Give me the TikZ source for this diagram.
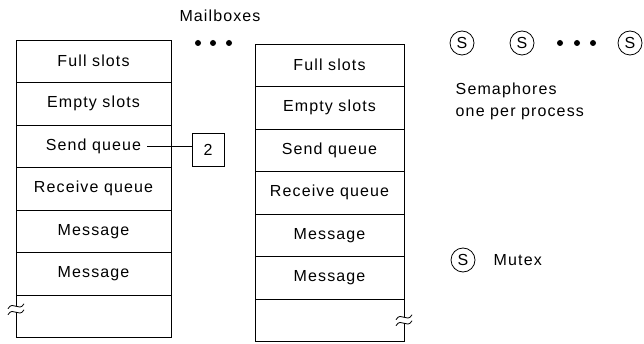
\documentclass[tikz,border=0pt]{standalone}
\usepackage{fontspec}
\setmainfont[LetterSpace=7]{Liberation Sans}
\usetikzlibrary{positioning}

\tikzset{
    slot/.style={draw, rectangle, minimum height=42.5pt, outer sep=0pt, inner sep=0pt},
    sema/.style={draw, circle, minimum size=24pt, inner sep=0pt},
    bigdot/.style={fill, circle, minimum size=6pt, inner sep=0pt},
}

% torn edge: two waves round a point
\newcommand{\tearmark}[1]{%
    \draw ([shift={(-8pt,0.5pt)}]#1) .. controls ([shift={(-3pt,9.5pt)}]#1) and ([shift={(3pt,-3.5pt)}]#1) .. ([shift={(8pt,5.5pt)}]#1);
    \draw ([shift={(-8pt,-5.5pt)}]#1) .. controls ([shift={(-3pt,3.5pt)}]#1) and ([shift={(3pt,-9.5pt)}]#1) .. ([shift={(8pt,-0.5pt)}]#1);
}

\begin{document}
\begin{tikzpicture}[x=1pt, y=-1pt, line width=0.8pt, font=\fontsize{16}{22}\selectfont]
    \useasboundingbox (0,0) rectangle (644,344);

    \node (mbox) at (220,16) {Mailboxes};

    % first mailbox
    \begin{scope}[every node/.style={slot, minimum width=155pt}]
        \node[anchor=north west] (fs1) at (16,40) {Full slots};
        \node[below=0pt of fs1] (es1) {Empty slots};
        \node[below=0pt of es1] (sq1) {Send queue};
        \node[below=0pt of sq1] (rq1) {Receive queue};
        \node[below=0pt of rq1] (ma1) {Message};
        \node[below=0pt of ma1] (mb1) {Message};
        \node[below=0pt of mb1, draw=none] (e1) {};
    \end{scope}
    \coordinate (tear1) at ([yshift=7pt]e1.west);
    \draw (e1.north west) -- ([yshift=3pt]tear1);
    \draw ([yshift=-3pt]tear1) -- (e1.south west) -- (e1.south east) -- (e1.north east);
    \tearmark{tear1}

    % send queue length
    \node[draw, minimum width=32pt, minimum height=33pt, inner sep=0pt] (len) at (208,150) {2};
    \coordinate (qend) at ([xshift=-24pt]sq1.east);
    \draw (qend) -- (qend -| len.west);

    % more mailboxes
    \node[bigdot] (md1) at (198,43) {};
    \node[bigdot] (md2) at (213,43) {};
    \node[bigdot] (md3) at (229,43) {};

    % last mailbox
    \begin{scope}[every node/.style={slot, minimum width=149pt}]
        \node[anchor=north west] (fs2) at (255,44) {Full slots};
        \node[below=0pt of fs2] (es2) {Empty slots};
        \node[below=0pt of es2] (sq2) {Send queue};
        \node[below=0pt of sq2] (rq2) {Receive queue};
        \node[below=0pt of rq2] (ma2) {Message};
        \node[below=0pt of ma2] (mb2) {Message};
        \node[below=0pt of mb2, draw=none] (e2) {};
    \end{scope}
    \coordinate (tear2) at (e2.east);
    \draw (e2.north east) -- ([yshift=3pt]tear2);
    \draw ([yshift=-3pt]tear2) -- (e2.south east) -- (e2.south west) -- (e2.north west);
    \tearmark{tear2}

    % semaphores
    \node[sema] (s1) at (462,43) {S};
    \node[sema] (s2) at (522,43) {S};
    \node[bigdot] (sd1) at (560,43) {};
    \node[bigdot] (sd2) at (577,43) {};
    \node[bigdot] (sd3) at (593,43) {};
    \node[sema] (sn) at (630,43) {S};
    \node[anchor=west, align=left] (semlbl) at (452,101) {Semaphores\\one per process};

    % mutex
    \node[sema] (mtx) at (463,260) {S};
    \node[anchor=west] (mtxlbl) at (490,260) {Mutex};
\end{tikzpicture}
\end{document}
